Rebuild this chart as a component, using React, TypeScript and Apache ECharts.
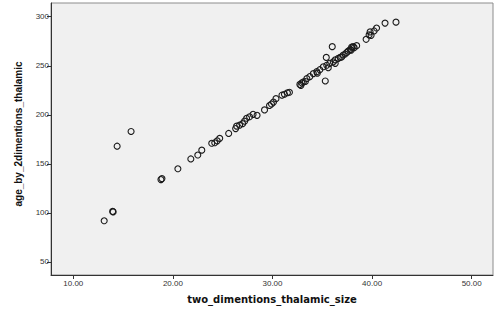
import React, { useEffect, useRef } from "react";
import * as echarts from "echarts";

const xTicks = [10, 20, 30, 40, 50];
const yTicks = [50, 100, 150, 200, 250, 300];

const thalamicSize = [
  13.1, 14.0, 13.95, 14.4, 15.8, 18.8, 18.9, 20.5, 21.8, 22.5, 22.9, 23.9, 24.2, 24.45, 24.7,
  25.6, 26.3, 26.4, 26.7, 27.0, 27.2, 27.4, 27.7, 28.05, 28.45, 29.2, 29.7, 29.9, 30.1, 30.35,
  30.95, 31.2, 31.5, 31.7, 32.75, 32.85, 32.95, 33.1, 33.3, 33.45, 33.75, 34.1, 34.45, 34.5,
  34.75, 35.1, 35.3, 35.4, 35.45, 35.6, 35.75, 36.0, 36.1, 36.3, 36.3, 36.6, 36.8, 36.95, 37.1,
  37.3, 37.45, 37.6, 37.8, 37.9, 37.95, 38.1, 38.2, 38.45, 39.4, 39.7, 39.8, 39.9, 40.2, 40.45,
  41.3, 42.4,
];

const ageBy2d = [
  92, 101, 101.5, 168, 183, 134, 135, 145, 155, 159, 164, 171, 171.5, 173.5, 176,
  181, 186, 188.5, 189.5, 191, 193.5, 196.5, 198, 200.5, 199.5, 205, 209.5, 211, 213, 216.5,
  220, 221, 222.5, 223, 231, 230, 232.5, 233.5, 234, 237, 239, 242, 244, 242.5,
  246, 249, 234.5, 258.5, 250.5, 248, 252.5, 269.5, 254, 252.5, 256, 257.5, 258.5, 259, 261,
  262, 263.5, 265, 266.5, 266, 269, 269.5, 268.5, 270.5, 277, 281.5, 284.5, 281, 285.5, 288.5,
  293.5, 294.5,
];

export default function App() {
  const ref = useRef<HTMLDivElement>(null);
  useEffect(() => {
    if (!ref.current) return;
    const chart = echarts.init(ref.current, undefined, { renderer: "svg" });
    const data = thalamicSize.map((x, i) => [x, ageBy2d[i]]);
    chart.setOption({
      animation: false,
      backgroundColor: "#ffffff",
      grid: {
        left: 51,
        right: 7,
        top: 3,
        bottom: 38,
        show: true,
        backgroundColor: "#f0f0f0",
        borderColor: "#8c8c8c",
        borderWidth: 1,
      },
      xAxis: {
        type: "value",
        min: 7.76,
        max: 52.14,
        name: "two_dimentions_thalamic_size",
        nameLocation: "middle",
        nameGap: 19,
        nameTextStyle: {
          fontFamily: "DejaVu Sans",
          fontWeight: "bold",
          fontSize: 10,
          color: "#111",
        },
        splitLine: { show: false },
        axisLine: { show: true, onZero: false, lineStyle: { color: "#333", width: 1 } },
        axisTick: { show: true, length: 4, customValues: xTicks, lineStyle: { color: "#333" } },
        axisLabel: {
          customValues: xTicks,
          formatter: (v: number) => v.toFixed(2),
          fontFamily: "Liberation Sans",
          fontSize: 8,
          color: "#333",
          margin: 4,
        },
      },
      yAxis: {
        type: "value",
        min: 36.7,
        max: 314,
        name: "age_by_2dimentions_thalamic",
        nameLocation: "middle",
        nameGap: 28,
        nameTextStyle: {
          fontFamily: "Liberation Sans",
          fontWeight: "bold",
          fontSize: 10,
          color: "#111",
          padding: [0, 0, 0, 10],
        },
        splitLine: { show: false },
        axisLine: { show: true, onZero: false, lineStyle: { color: "#333", width: 1 } },
        axisTick: { show: true, length: 4, customValues: yTicks, lineStyle: { color: "#333" } },
        axisLabel: {
          customValues: yTicks,
          fontFamily: "Liberation Sans",
          fontSize: 8,
          color: "#333",
          margin: 2,
        },
      },
      series: [
        {
          type: "scatter",
          data,
          symbol: "circle",
          symbolSize: 6,
          itemStyle: {
            color: "rgba(0,0,0,0)",
            borderColor: "#1a1a1a",
            borderWidth: 1.1,
            opacity: 1,
          },
          emphasis: { disabled: true },
        },
      ],
    });
    return () => chart.dispose();
  }, []);
  return (
    <div
      ref={ref}
      style={{ position: "fixed", left: 0, top: 0, width: 500, height: 313 }}
    />
  );
}
